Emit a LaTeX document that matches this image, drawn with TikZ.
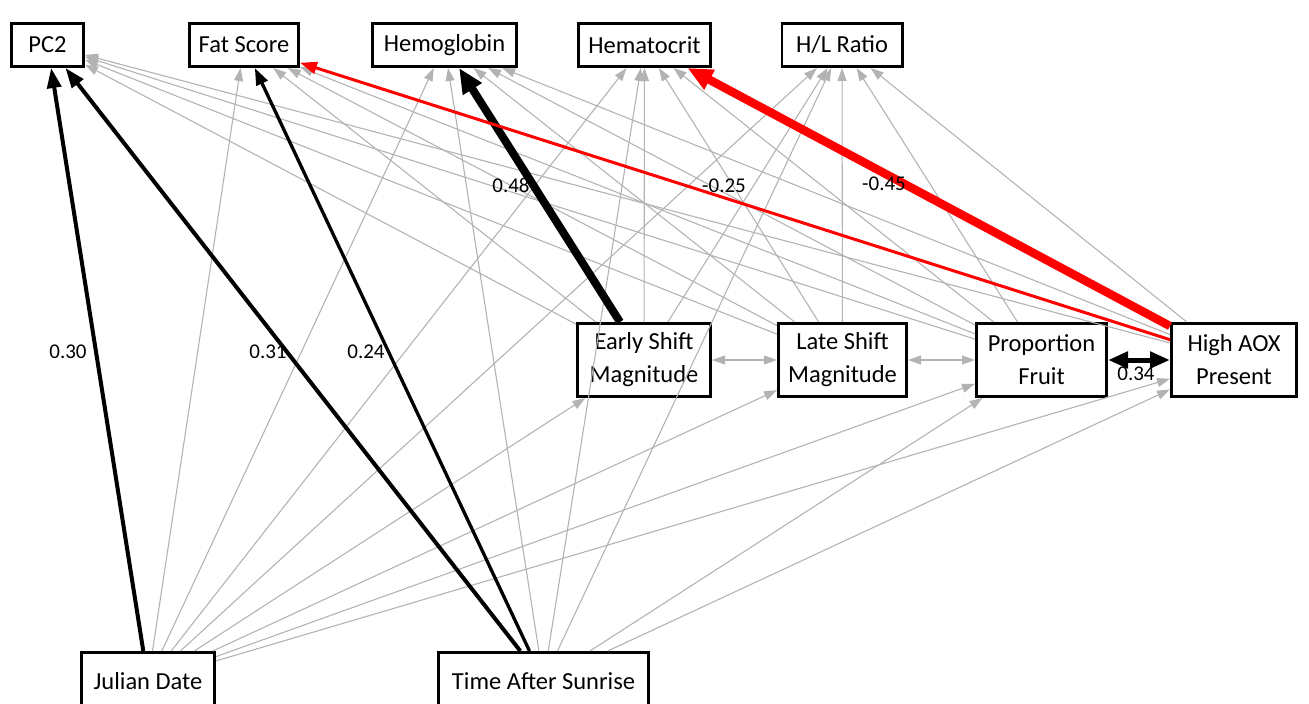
\documentclass[tikz,border=0pt]{standalone}
\usepackage{fontspec}
\setmainfont{Carlito}
\usetikzlibrary{arrows.meta}
\definecolor{EdgeGray}{HTML}{B3B3B3}
\definecolor{NegRed}{HTML}{FF0000}

\begin{document}
\begin{tikzpicture}[x=1pt,y=-1pt,>={Triangle[length=13pt,width=9pt]},
    box/.style={draw,line width=2.6pt,inner sep=0pt,align=center,
      font=\fontsize{24.5}{33}\selectfont},
    ns/.style={EdgeGray,line width=1.1pt,->},
    lab/.style={font=\fontsize{21}{25}\selectfont,inner sep=0pt}]
        \useasboundingbox (0,0) rectangle (1309,704);
        \foreach \n/\x/\w/\lab in {
          pc2/47.5/72.4/PC2,fat/244/109.4/Fat Score,hb/444.5/144.4/Hemoglobin,
          hct/644.5/132.4/Hematocrit,hl/842/120.4/{H/L Ratio}}
          \node[box,minimum width=\w pt,minimum height=43.4pt] (\n) at (\x,45) {\lab};
        \foreach \n/\x/\w/\lab in {
          es/644/133.4/{Early Shift\\Magnitude},ls/842.5/128.4/{Late Shift\\Magnitude},
          pf/1041.5/130.4/{Proportion\\Fruit},aox/1234/125.4/{High AOX\\Present}}
          \node[box,minimum width=\w pt,minimum height=73.4pt] (\n) at (\x,360) {\lab};
        \node[box,minimum width=133.4pt,minimum height=57.4pt] (jd) at (148,681) {Julian Date};
        \node[box,minimum width=210.4pt,minimum height=57.4pt] (tas) at (543.5,681) {Time After Sunrise};
        \foreach \a/\b in {jd/fat,jd/hb,jd/hct,jd/hl,jd/es,jd/ls,jd/pf,jd/aox,
          tas/hb,tas/hct,tas/hl,tas/pf,tas/aox,
          es/pc2,es/fat,es/hct,es/hl,
          ls/pc2,ls/fat,ls/hb,ls/hct,ls/hl,
          pf/pc2,pf/fat,pf/hb,pf/hct,pf/hl,
          aox/pc2,aox/hb,aox/hl}
          \draw[ns] (\a) -- (\b);
        \draw[ns,<->] (es) -- (ls);
        \draw[ns,<->] (ls) -- (pf);
        \draw[line width=5pt,{Triangle[length=20pt,width=16pt]}-{Triangle[length=20pt,width=16pt]}] (pf) -- (aox);
        \foreach \a/\b/\col/\lw/\len/\wid in {
          jd/pc2/black/4/20/14,tas/pc2/black/4/20/14,tas/fat/black/3.3/17/12,
          es/hb/black/8/25/21,aox/fat/NegRed/3/17/12,aox/hct/NegRed/8.5/25/21}
          \draw[\col,line width=\lw pt,-{Triangle[length=\len pt,width=\wid pt]}] (\a) -- (\b);
        \foreach \n/\x/\y/\t in {
          wjd/68/352/0.30,wtas/268/352/0.31,wfat/366/352/0.24,whb/511/185/0.48,
          wred/724/186/-0.25,whct/884/184/-0.45,waox/1136/374/0.34}
          \node[lab] (\n) at (\x,\y) {\t};
\end{tikzpicture}
\end{document}
